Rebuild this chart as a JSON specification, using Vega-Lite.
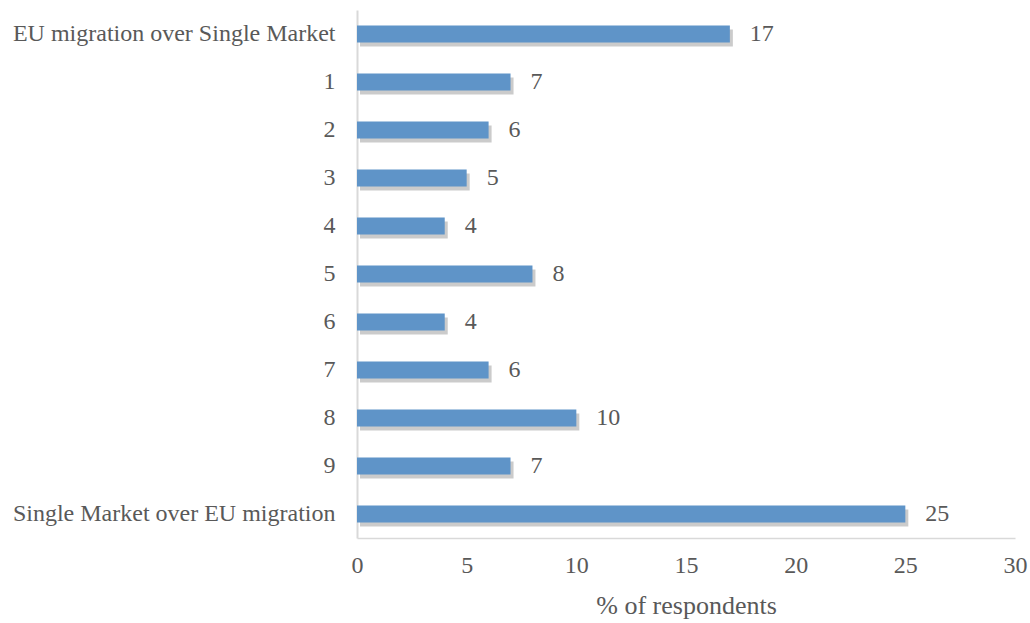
{
  "$schema": "https://vega.github.io/schema/vega-lite/v6.json",
  "width": 658,
  "height": 528,
  "autosize": "none",
  "padding": {"left": 357, "top": 10, "right": 15, "bottom": 85},
  "background": "white",
  "config": {
    "view": {"stroke": null},
    "font": "Liberation Serif"
  },
  "data": {
    "values": [
      {"category": "EU migration over Single Market", "value": 17},
      {"category": "1", "value": 7},
      {"category": "2", "value": 6},
      {"category": "3", "value": 5},
      {"category": "4", "value": 4},
      {"category": "5", "value": 8},
      {"category": "6", "value": 4},
      {"category": "7", "value": 6},
      {"category": "8", "value": 10},
      {"category": "9", "value": 7},
      {"category": "Single Market over EU migration", "value": 25}
    ]
  },
  "encoding": {
    "y": {
      "field": "category",
      "type": "nominal",
      "sort": null,
      "scale": {"paddingInner": 0.65, "paddingOuter": 0.325},
      "axis": {
        "title": null,
        "ticks": false,
        "domainColor": "#d9d9d9",
        "domainWidth": 2,
        "labelFont": "Liberation Serif",
        "labelFontSize": 24,
        "labelColor": "#595959",
        "labelPadding": 22,
        "labelLimit": 400
      }
    },
    "x": {
      "field": "value",
      "type": "quantitative",
      "scale": {"domain": [0, 30]},
      "axis": {
        "values": [0, 5, 10, 15, 20, 25, 30],
        "grid": false,
        "ticks": false,
        "labelFlush": false,
        "domainColor": "#d9d9d9",
        "domainWidth": 1.5,
        "labelFont": "Liberation Serif",
        "labelFontSize": 24,
        "labelColor": "#595959",
        "labelPadding": 15,
        "title": "% of respondents",
        "titleFont": "Liberation Serif",
        "titleFontSize": 26,
        "titleFontWeight": "normal",
        "titleColor": "#595959",
        "titlePadding": 15
      }
    }
  },
  "layer": [
    {
      "mark": {"type": "bar", "color": "#8c8c8c", "opacity": 0.45, "xOffset": 3, "yOffset": 4}
    },
    {
      "mark": {"type": "bar", "color": "#5f94c8"}
    },
    {
      "mark": {"type": "text", "align": "left", "baseline": "middle", "dx": 20, "font": "Liberation Serif", "fontSize": 24, "color": "#595959"},
      "encoding": {"text": {"field": "value", "type": "quantitative"}}
    }
  ]
}
